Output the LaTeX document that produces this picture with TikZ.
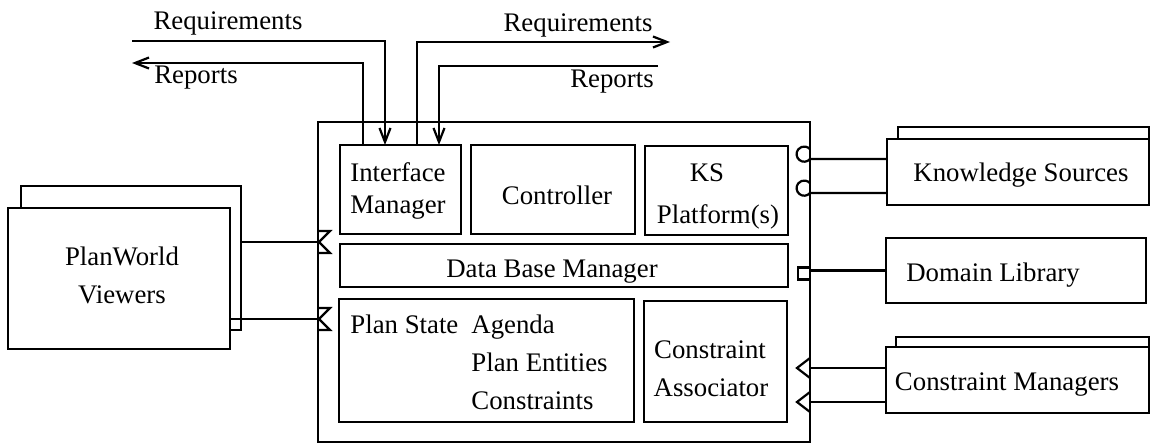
\documentclass[tikz,border=0pt]{standalone}
\usepackage{fontspec}
\setmainfont{Liberation Serif}
\usetikzlibrary{arrows.meta}
\begin{document}
\begin{tikzpicture}[x=0.5pt,y=-0.5pt,
  box/.style={draw, line width=1.1pt, fill=white, inner sep=0pt, outer sep=0pt, anchor=north west},
  lbl/.style={inner sep=0pt, font=\fontsize{13.4pt}{18pt}\selectfont},
  wire/.style={line width=1.1pt},
  arr/.style={line width=1.1pt, -{Straight Barb[length=7pt,width=5.5pt,line width=1.1pt]}},
  sock/.style={line width=1.1pt, line join=miter}
]
\useasboundingbox (0,0) rectangle (1152,445);

% main box and its parts
\node[box, minimum width=246pt, minimum height=160pt] (main) at (318,122) {};
\node[box, minimum width=60.5pt, minimum height=44.5pt] (im) at (340,145) {};
\node[box, minimum width=82pt, minimum height=44.5pt] (ctrl) at (471,145) {};
\node[box, minimum width=71.5pt, minimum height=44.5pt] (ksp) at (645,146) {};
\node[box, minimum width=224pt, minimum height=21.5pt] (dbm) at (340,244) {};
\node[box, minimum width=147.5pt, minimum height=61.5pt] (ps) at (339,299) {};
\node[box, minimum width=71.5pt, minimum height=60.5pt] (ca) at (644,301) {};

% PlanWorld viewers (stacked)
\node[box, minimum width=110pt, minimum height=72pt] (pwb) at (21,186) {};
\node[box, minimum width=111pt, minimum height=70.5pt] (pwf) at (8,208) {};

% right-hand boxes
\node[box, minimum width=125.5pt, minimum height=33pt] (ksb) at (898,127) {};
\node[box, minimum width=131pt, minimum height=33pt] (ksf) at (887,139) {};
\node[box, minimum width=130pt, minimum height=32.5pt] (dl) at (886,238) {};
\node[box, minimum width=126.5pt, minimum height=33pt] (cmb) at (896,337) {};
\node[box, minimum width=131.5pt, minimum height=33pt] (cmf) at (886,347) {};

% texts
\node[lbl] (t-rqL) at (228,23) {Requirements};
\node[lbl] (t-rpL) at (196,78) {Reports};
\node[lbl] (t-rqR) at (578,25) {Requirements};
\node[lbl] (t-rpR) at (612,82) {Reports};
\node[lbl] (t-im1) at (398,172) {Interface};
\node[lbl] (t-im2) at (398,208) {Manager};
\node[lbl] (t-ctrl) at (557,195) {Controller};
\node[lbl] (t-ks1) at (707,173) {KS};
\node[lbl] (t-ks2) at (718,217) {Platform(s)};
\node[lbl] (t-dbm) at (552,272) {Data Base Manager};
\node[lbl, anchor=base west] (t-ps) at (350,333) {Plan State};
\node[lbl, anchor=base west] (t-ag) at (471,333) {Agenda};
\node[lbl, anchor=base west] (t-pe) at (471,371) {Plan Entities};
\node[lbl, anchor=base west] (t-co) at (471,409) {Constraints};
\node[lbl] (t-ca1) at (710,350) {Constraint};
\node[lbl] (t-ca2) at (711,388) {Associator};
\node[lbl] (t-pw1) at (122,256) {PlanWorld};
\node[lbl] (t-pw2) at (122,295) {Viewers};
\node[lbl] (t-ks) at (1021,175) {Knowledge Sources};
\node[lbl] (t-dl) at (993,275) {Domain Library};
\node[lbl] (t-cm) at (1007,385) {Constraint Managers};

% top requirement/report arrows
\coordinate (rqL) at (132,41);
\coordinate (rpL) at (132,63);
\coordinate (rqR) at (670,42);
\coordinate (rpR) at (658,66);
\draw[arr] (rqL) -| ([xshift=22.5pt]im.north west);
\draw[arr] ([xshift=11.5pt]im.north west) |- (rpL);
\draw[arr] ([xshift=38.5pt]im.north west) |- (rqR);
\draw[arr] (rpR) -| ([xshift=49.5pt]im.north west);

% PlanWorld connectors
\path ([yshift=8pt]pwb.east) coordinate (p1);
\path ([yshift=-20.25pt]pwf.east) coordinate (p2);
\draw[wire] (p1) -- (p1 -| main.west);
\draw[wire] (p2) -- (p2 -| main.west);
\draw[sock] (p1 -| main.west) ++(0,5.5pt) -- ++(6pt,0) -- ++(-5.5pt,-5.5pt) -- ++(5.5pt,-5.5pt) -- ++(-6pt,0);
\draw[sock] (p2 -| main.west) ++(0,5.5pt) -- ++(6pt,0) -- ++(-5.5pt,-5.5pt) -- ++(5.5pt,-5.5pt) -- ++(-6pt,0);

% Knowledge Sources connectors
\path ([yshift=6.5pt]ksf.west) coordinate (k1);
\path ([yshift=-10.5pt]ksf.west) coordinate (k2);
\draw[wire] (k1) -- (k1 -| main.east) arc[start angle=-40, end angle=-320, radius=3.8pt];
\draw[wire] (k2) -- (k2 -| main.east) arc[start angle=-40, end angle=-320, radius=3.8pt];

% Domain Library connector
\path (dl.west) coordinate (d1);
\draw[wire] (d1) -- (d1 -| main.east);
\draw[sock] (d1 -| main.east) ++(0,1.5pt) -- ++(-6pt,0) -- ++(0,-6pt) -- ++(6pt,0);

% Constraint Managers connectors
\path ([yshift=6pt]cmf.west) coordinate (c1);
\path ([yshift=-11pt]cmf.west) coordinate (c2);
\draw[wire] (c1) -- (c1 -| main.east);
\draw[wire] (c2) -- (c2 -| main.east);
\draw[sock] (c1 -| main.east) ++(0,5pt) -- ++(-6.5pt,-5pt) -- ++(6.5pt,-5pt);
\draw[sock] (c2 -| main.east) ++(0,5pt) -- ++(-6.5pt,-5pt) -- ++(6.5pt,-5pt);
\end{tikzpicture}
\end{document}
